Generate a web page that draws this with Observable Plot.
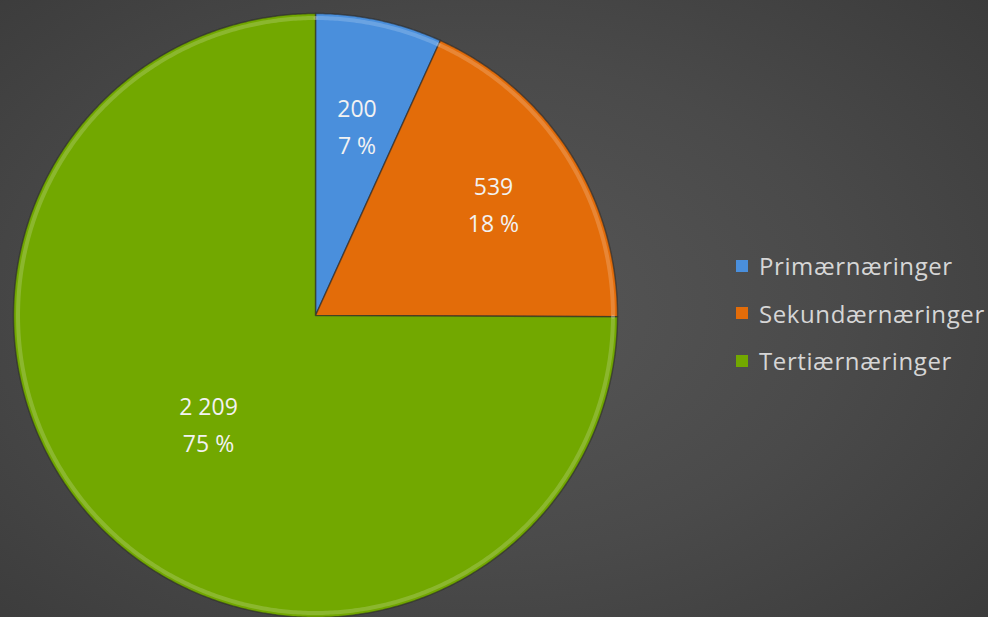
<!DOCTYPE html>
<html>
<head>
<meta charset="utf-8">
<script src="https://cdn.jsdelivr.net/npm/d3@7"></script>
<script src="https://cdn.jsdelivr.net/npm/@observablehq/plot@0.6"></script>
<style>
  html, body { margin: 0; padding: 0; }
  body {
    width: 988px; height: 617px; overflow: hidden; position: relative;
    background: radial-gradient(ellipse 75% 80% at 48% 50%, #575757 0%, #4a4a4a 50%, #393939 100%);
    font-family: "Open Sans", sans-serif;
  }
  #chart { position: absolute; left: 0; top: 0; }
  #legend { position: absolute; left: 736px; top: 242px; color: #d6d6d6; font-size: 24px; letter-spacing: 0.6px; }
  #legend .row { display: flex; align-items: center; height: 47.5px; }
  #legend .sw { width: 12px; height: 12px; margin-right: 11px; }
</style>
</head>
<body>
<div id="chart"></div>
<div id="legend"></div>
<script>
const categories = ["Primærnæringer", "Sekundærnæringer", "Tertiærnæringer"];
const values = [200, 539, 2209];
const valueLabels = ["200", "539", "2 209"];
const percentLabels = ["7 %", "18 %", "75 %"];
const colors = ["#4a8fdc", "#e36c09", "#72a800"];

const data = categories.map((name, i) => ({name, value: values[i], label: valueLabels[i] + "\n" + percentLabels[i]}));
const arcs = d3.pie().sort(null).value(d => d.value)(data);

// slice outlines as closed polygons in unit-circle coordinates
const pts = [];
const rim = [];
for (const a of arcs) {
  const n = Math.max(8, Math.ceil((a.endAngle - a.startAngle) * 120));
  pts.push({name: a.data.name, x: 0, y: 0});
  for (let k = 0; k <= n; k++) {
    const t = a.startAngle + (a.endAngle - a.startAngle) * k / n;
    pts.push({name: a.data.name, x: Math.sin(t), y: Math.cos(t)});
    rim.push({name: a.data.name, x: 0.985 * Math.sin(t), y: 0.985 * Math.cos(t)});
  }
  pts.push({name: a.data.name, x: 0, y: 0});
}
const labels = arcs.map(a => {
  const m = (a.startAngle + a.endAngle) / 2;
  const span = a.endAngle - a.startAngle;
  const r = span < 0.6 ? 0.65 : span < Math.PI / 2 ? 0.70 : 0.50;
  return {name: a.data.name, label: a.data.label, x: r * Math.sin(m), y: r * Math.cos(m)};
});

const chart = Plot.plot({
  width: 988, height: 617, margin: 0,
  style: {background: "transparent", overflow: "visible"},
  x: {domain: [-1, 1], range: [13, 617], axis: null},
  y: {domain: [-1, 1], range: [617, 13], axis: null},
  color: {domain: categories, range: colors},
  marks: [
    Plot.line(pts, {x: "x", y: "y", z: "name", fill: "name", stroke: "#2a2a2a", strokeOpacity: 0.6, strokeWidth: 1.5, curve: "linear-closed"}),
    Plot.line(rim, {x: "x", y: "y", z: "name", stroke: "#ffffff", strokeOpacity: 0.18, strokeWidth: 4}),
    Plot.text(labels, {x: "x", y: "y", text: "label", fill: "#f2f2f2", fontSize: 23, fontFamily: "Open Sans", lineHeight: 1.6})
  ]
});
document.getElementById("chart").appendChild(chart);

const legend = document.getElementById("legend");
categories.forEach((c, i) => {
  const row = document.createElement("div");
  row.className = "row";
  const sw = document.createElement("span");
  sw.className = "sw";
  sw.style.background = colors[i];
  const tx = document.createElement("span");
  tx.textContent = c;
  row.appendChild(sw); row.appendChild(tx);
  legend.appendChild(row);
});
</script>
</body>
</html>
